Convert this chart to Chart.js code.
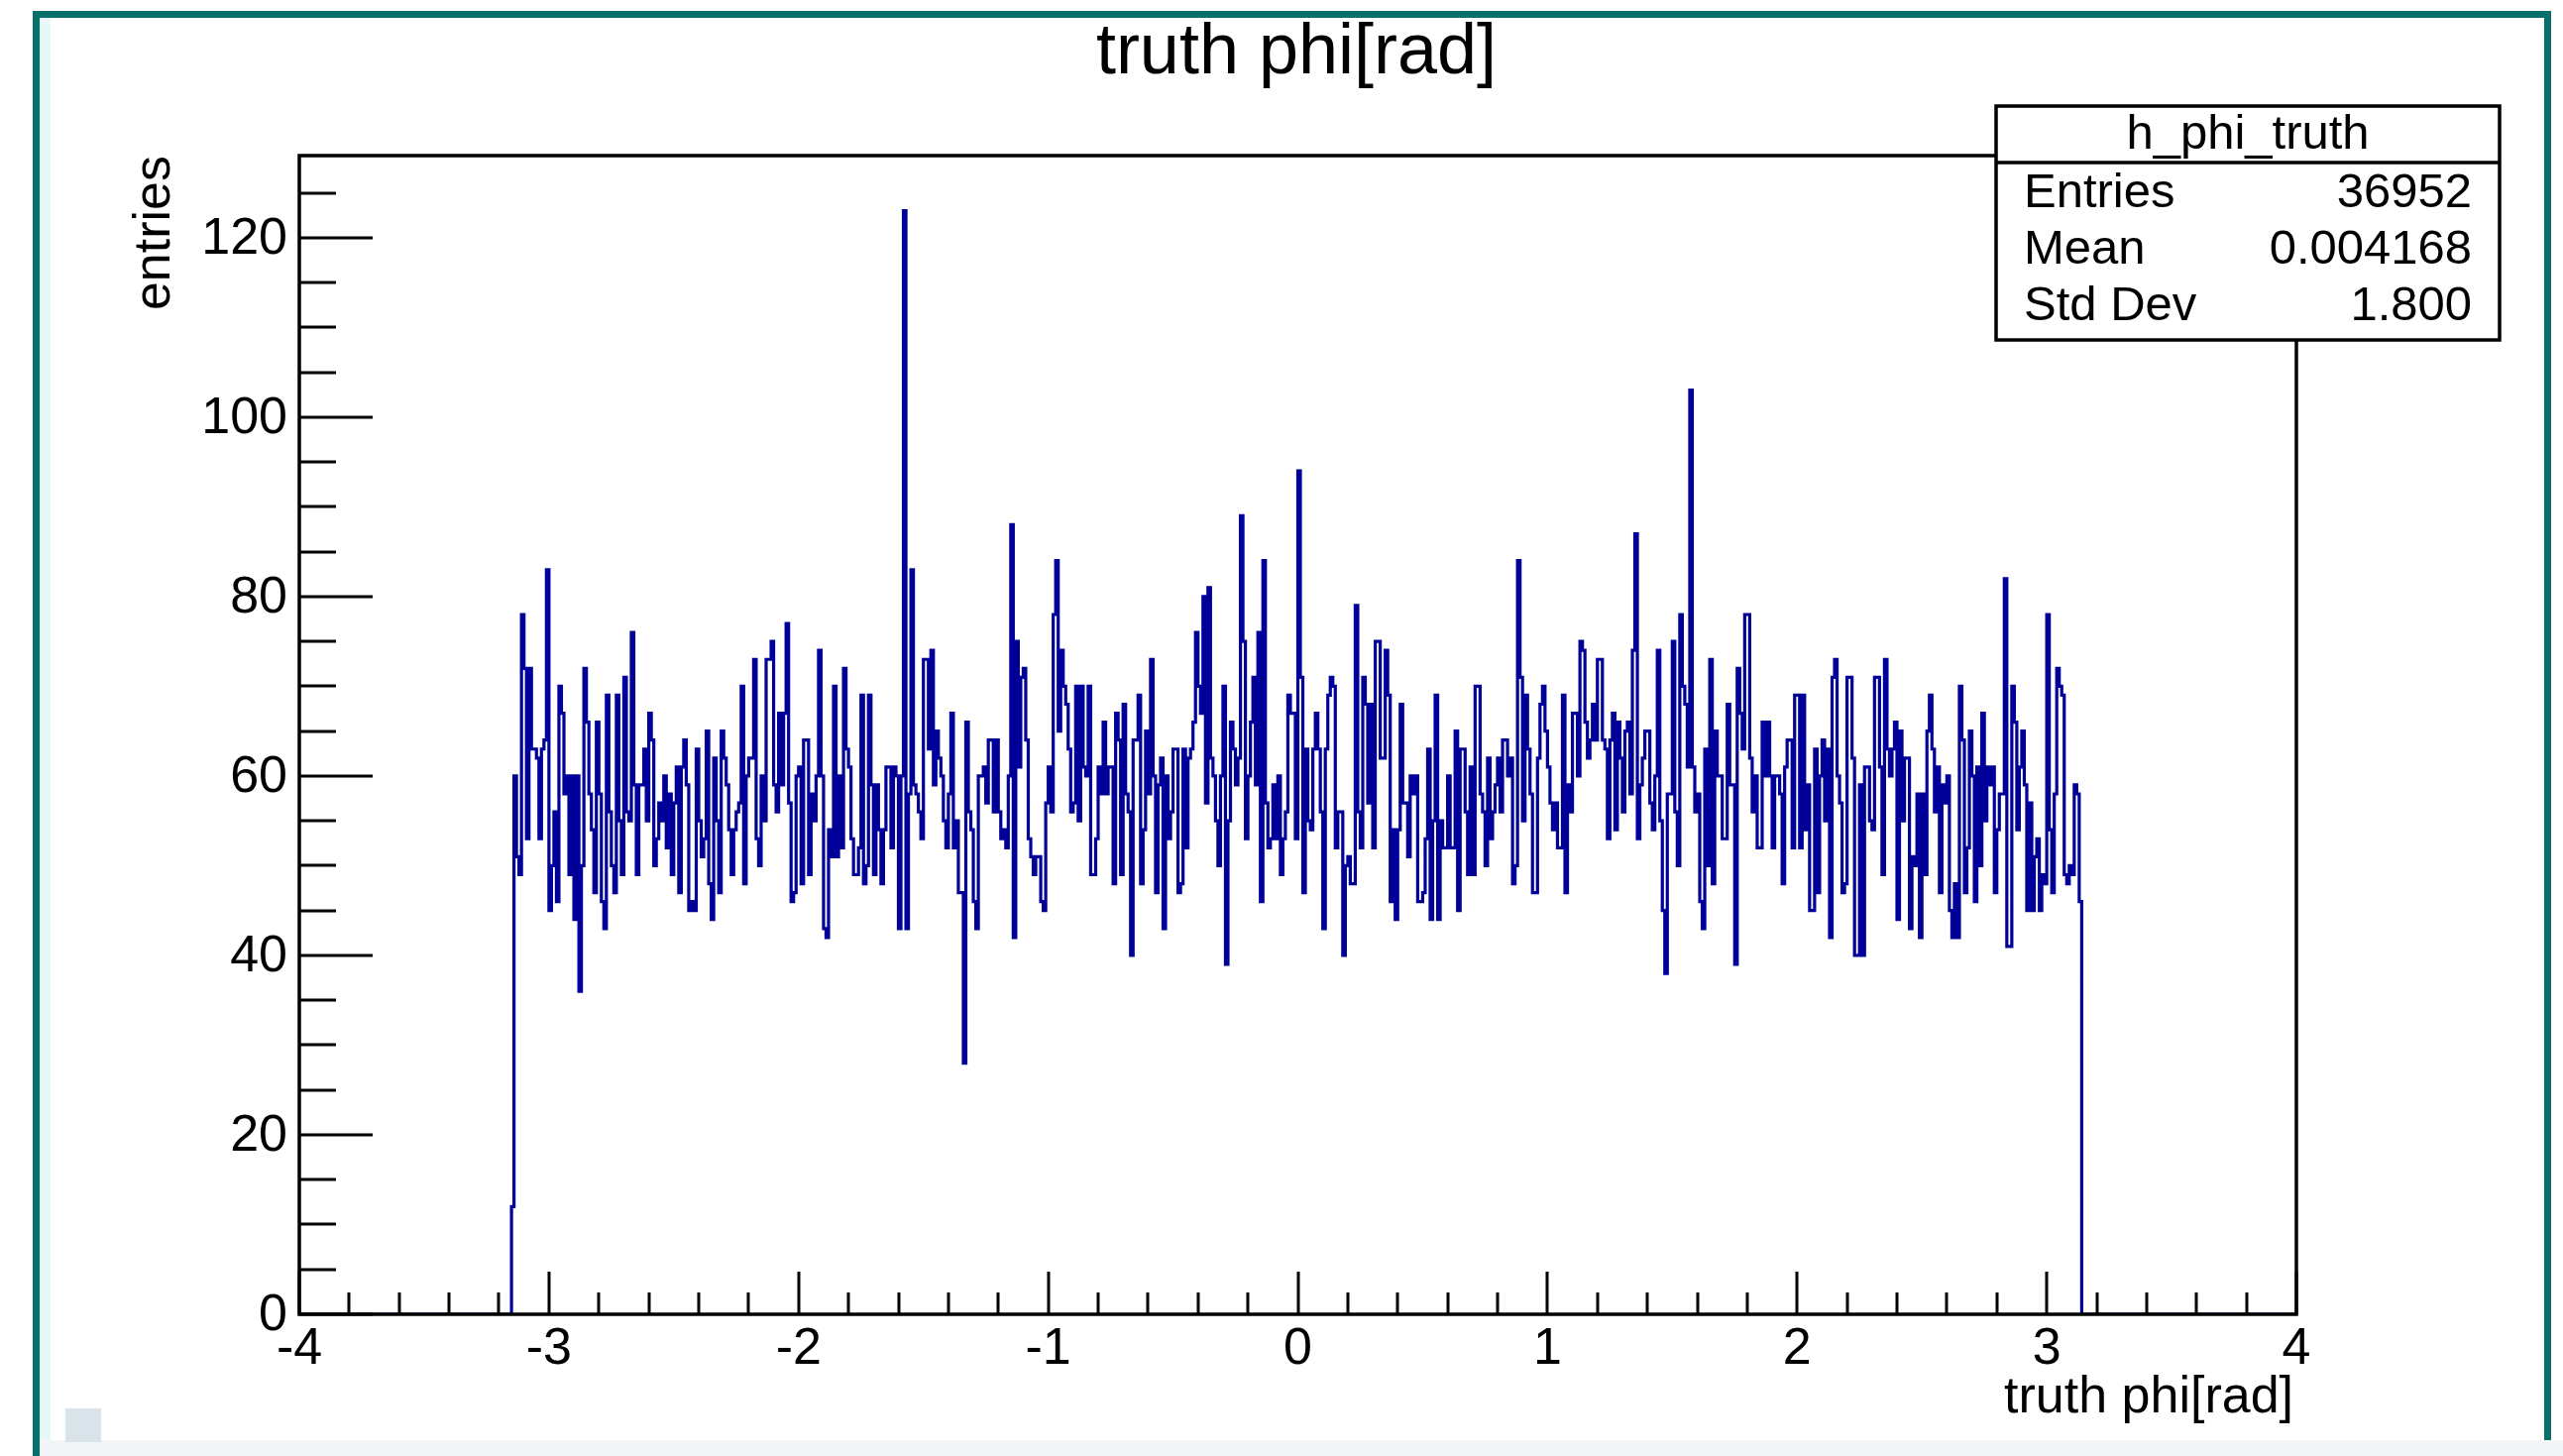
<!DOCTYPE html>
<html>
<head>
<meta charset="utf-8">
<title>truth phi[rad]</title>
<script src="https://cdn.jsdelivr.net/npm/chart.js@4.4.1/dist/chart.umd.min.js"></script>
<style>
  html, body { margin: 0; padding: 0; background: #ffffff; overflow: hidden; }
  canvas { display: block; }
</style>
</head>
<body>
<canvas id="phiChart" width="2586" height="1469"></canvas>
<script>
// h_phi_truth : bins of 0.01 rad starting at -3.15, counts
const firstEdge = -3.15;
const binWidth = 0.01;

// phi in [-3.15, -3.00)
const countsFromM315 = [12, 60, 51, 49, 78, 72, 53, 72, 63, 63, 62, 53, 63, 64, 83];
// phi in [-3, -2)
const countsFromM3 = [
  45, 50, 56, 46, 70, 67, 58, 60, 49, 60, 44, 60, 36, 50, 72, 66, 58, 54, 47, 66,
  58, 46, 43, 69, 56, 50, 47, 69, 55, 49, 71, 56, 55, 76, 59, 49, 59, 59, 63, 55,
  67, 64, 50, 53, 57, 55, 60, 52, 58, 49, 57, 61, 47, 61, 64, 59, 45, 46, 45, 63,
  55, 51, 53, 65, 48, 44, 62, 55, 47, 65, 62, 59, 54, 49, 54, 56, 57, 70, 48, 60,
  62, 62, 73, 53, 50, 60, 55, 73, 73, 75, 59, 56, 67, 59, 67, 77, 57, 46, 47, 60
];
// phi in [-2, -1)
const countsFromM2 = [
  61, 48, 64, 64, 49, 58, 55, 60, 74, 60, 43, 42, 54, 51, 70, 51, 60, 52, 72, 63,
  61, 53, 49, 49, 52, 69, 48, 50, 69, 59, 49, 59, 54, 48, 54, 61, 61, 52, 61, 60,
  43, 60, 123, 43, 58, 83, 59, 58, 56, 53, 73, 73, 63, 74, 59, 65, 62, 60, 55, 52,
  58, 67, 52, 55, 47, 47, 28, 66, 56, 54, 46, 43, 60, 60, 61, 57, 64, 64, 56, 64,
  56, 53, 54, 52, 60, 88, 42, 75, 61, 71, 72, 64, 53, 51, 49, 51, 51, 46, 45, 57
];
// phi in [-1, 0)
const countsFromM1 = [
  61, 56, 78, 84, 65, 74, 70, 68, 63, 56, 57, 70, 55, 70, 61, 60, 70, 49, 49, 53,
  61, 58, 66, 58, 61, 61, 48, 67, 64, 49, 68, 58, 56, 40, 64, 64, 69, 48, 54, 65,
  58, 73, 60, 47, 59, 62, 43, 60, 53, 56, 63, 63, 47, 48, 63, 52, 62, 63, 66, 76,
  70, 67, 80, 57, 81, 62, 60, 55, 50, 60, 70, 39, 55, 66, 63, 59, 62, 89, 75, 53,
  60, 66, 71, 59, 76, 46, 84, 57, 52, 53, 59, 53, 60, 49, 53, 56, 69, 67, 67, 53
];
// phi in [0, 1)
const countsFrom0 = [
  94, 71, 47, 63, 55, 54, 63, 67, 63, 56, 43, 63, 69, 71, 70, 52, 56, 56, 40, 50,
  51, 48, 48, 79, 56, 52, 71, 68, 57, 68, 52, 75, 75, 62, 62, 74, 69, 46, 54, 44,
  54, 68, 57, 57, 51, 60, 58, 60, 46, 46, 47, 53, 63, 44, 55, 69, 44, 55, 52, 52,
  60, 52, 52, 65, 45, 63, 63, 56, 49, 61, 49, 70, 70, 58, 56, 50, 62, 53, 56, 59,
  62, 56, 64, 64, 60, 62, 48, 50, 84, 71, 55, 69, 63, 58, 47, 47, 62, 68, 70, 65
];
// phi in [1, 2)
const countsFrom1 = [
  61, 57, 54, 57, 52, 52, 69, 47, 59, 56, 67, 67, 60, 75, 74, 66, 62, 64, 68, 64,
  73, 73, 64, 63, 53, 64, 67, 54, 66, 62, 56, 65, 66, 58, 74, 87, 53, 59, 62, 65,
  65, 57, 54, 60, 74, 55, 45, 38, 58, 58, 75, 56, 50, 78, 70, 68, 61, 103, 61, 56,
  58, 46, 43, 63, 50, 73, 48, 65, 60, 60, 53, 53, 68, 59, 59, 39, 72, 67, 63, 78,
  78, 62, 56, 60, 52, 52, 66, 60, 66, 60, 52, 60, 60, 58, 48, 61, 64, 64, 52, 69
];
// phi in [2, 3)
const countsFrom2 = [
  69, 52, 69, 54, 59, 45, 45, 63, 47, 60, 64, 55, 63, 42, 71, 73, 60, 57, 47, 48,
  71, 71, 62, 40, 40, 59, 40, 61, 61, 55, 54, 71, 71, 61, 49, 73, 63, 60, 63, 66,
  44, 65, 55, 62, 62, 43, 51, 50, 58, 42, 58, 49, 65, 69, 63, 56, 61, 47, 59, 57,
  60, 45, 42, 48, 42, 70, 64, 47, 52, 65, 60, 46, 61, 50, 67, 55, 61, 59, 61, 47,
  54, 58, 58, 82, 41, 41, 70, 66, 54, 61, 65, 59, 45, 57, 45, 51, 53, 45, 49, 48
];
// phi in [3, 3.14)
const countsFrom3 = [78, 54, 47, 58, 72, 70, 69, 49, 48, 50, 49, 59, 58, 46];

const xTickLabels = ['-4', '-3', '-2', '-1', '0', '1', '2', '3', '4'];
const yTickLabels = ['0', '20', '40', '60', '80', '100', '120'];
const statsLabels = ['Entries', 'Mean', 'Std Dev'];
const statsValues = ['36952', '0.004168', '1.800'];

const FONT = '"Liberation Sans", Arial, Helvetica, sans-serif';
const HIST_COLOR = '#000099';

// histogram outline: one point per bin low edge, stepped
const counts = [].concat(countsFromM315, countsFromM3, countsFromM2, countsFromM1,
  countsFrom0, countsFrom1, countsFrom2, countsFrom3);
const points = [{ x: -4, y: 0 }];
counts.forEach((c, i) => {
  points.push({ x: +(firstEdge + i * binWidth).toFixed(2), y: c });
});
points.push({ x: +(firstEdge + counts.length * binWidth).toFixed(2), y: 0 });
points.push({ x: 4, y: 0 });

// ROOT-like frame, inside ticks, labels, stats box and window border
const rootStyle = {
  id: 'rootStyle',
  beforeDraw(chart) {
    const ctx = chart.ctx;
    ctx.save();
    ctx.fillStyle = '#ffffff';
    ctx.fillRect(0, 0, chart.width, chart.height);
    ctx.restore();
  },
  afterDatasetsDraw(chart) {
    const ctx = chart.ctx;
    const area = chart.chartArea;
    const xs = chart.scales.x;
    const ys = chart.scales.y;
    ctx.save();
    ctx.strokeStyle = '#000000';
    ctx.lineWidth = 3;
    ctx.beginPath();
    // y ticks every 5, long ones every 20
    for (let v = 0; v <= ys.max; v += 5) {
      const y = Math.round(ys.getPixelForValue(v));
      const len = v % 20 === 0 ? 74 : 37;
      ctx.moveTo(area.left, y);
      ctx.lineTo(area.left + len, y);
    }
    // x ticks every 0.2, long ones on integers
    for (let i = -20; i <= 20; i++) {
      const x = Math.round(xs.getPixelForValue(i / 5));
      const len = i % 5 === 0 ? 43 : 22;
      ctx.moveTo(x, area.bottom);
      ctx.lineTo(x, area.bottom - len);
    }
    ctx.stroke();
    ctx.lineWidth = 3.5;
    ctx.strokeRect(area.left, area.top, area.right - area.left, area.bottom - area.top);
    ctx.restore();
  },
  afterDraw(chart) {
    const ctx = chart.ctx;
    const area = chart.chartArea;
    const xs = chart.scales.x;
    const ys = chart.scales.y;
    ctx.save();
    ctx.fillStyle = '#000000';

    // title
    ctx.font = '72px ' + FONT;
    ctx.textAlign = 'center';
    ctx.textBaseline = 'alphabetic';
    ctx.fillText('truth phi[rad]', 1308, 74);

    // tick labels
    ctx.font = '52px ' + FONT;
    ctx.textAlign = 'right';
    yTickLabels.forEach(t => {
      ctx.fillText(t, area.left - 12, ys.getPixelForValue(Number(t)) + 16);
    });
    ctx.textAlign = 'center';
    xTickLabels.forEach(t => {
      ctx.fillText(t, xs.getPixelForValue(Number(t)), area.bottom + 50);
    });

    // axis titles
    ctx.textAlign = 'right';
    ctx.fillText('truth phi[rad]', area.right - 3, 1425);
    ctx.save();
    ctx.translate(171, area.top);
    ctx.rotate(-Math.PI / 2);
    ctx.fillText('entries', 0, 0);
    ctx.restore();

    // stats box
    const bx = 2014, by = 107, bw = 508, bh = 236;
    ctx.fillStyle = '#ffffff';
    ctx.fillRect(bx, by, bw, bh);
    ctx.strokeStyle = '#000000';
    ctx.lineWidth = 3.5;
    ctx.strokeRect(bx, by, bw, bh);
    ctx.beginPath();
    ctx.moveTo(bx, 164);
    ctx.lineTo(bx + bw, 164);
    ctx.stroke();
    ctx.fillStyle = '#000000';
    ctx.font = '49px ' + FONT;
    ctx.textAlign = 'center';
    ctx.fillText('h_phi_truth', bx + bw / 2, 150);
    const rowBase = [209, 266, 323];
    statsLabels.forEach((lab, i) => {
      ctx.textAlign = 'left';
      ctx.fillText(lab, 2042, rowBase[i]);
      ctx.textAlign = 'right';
      ctx.fillText(statsValues[i], 2494, rowBase[i]);
    });

    // window border of the screenshot
    ctx.fillStyle = '#f4f5f6';
    ctx.fillRect(40, 1453, chart.width - 40, chart.height - 1453);
    ctx.fillStyle = '#e6f8f8';
    ctx.fillRect(40, 18, 11, 1435);
    ctx.fillStyle = '#08706a';
    ctx.fillRect(33, 11, 7, chart.height - 11);
    ctx.fillRect(33, 11, 2541, 7);
    ctx.fillRect(2567, 11, 7, 1442);
    ctx.fillStyle = '#d9e3ea';
    ctx.fillRect(66, 1421, 36, 34);
    ctx.restore();
  }
};

new Chart(document.getElementById('phiChart'), {
  type: 'line',
  data: {
    datasets: [{
      label: 'h_phi_truth',
      data: points,
      stepped: 'before',
      borderColor: HIST_COLOR,
      borderWidth: 3.2,
      pointRadius: 0,
      fill: false,
      tension: 0
    }]
  },
  options: {
    responsive: false,
    animation: false,
    layout: { padding: { left: 302, top: 157, right: 269, bottom: 143 } },
    plugins: {
      legend: { display: false },
      title: { display: false },
      tooltip: { enabled: false }
    },
    scales: {
      x: { type: 'linear', min: -4, max: 4, display: false },
      y: { type: 'linear', min: 0, max: 129.15, display: false }
    }
  },
  plugins: [rootStyle]
});
</script>
</body>
</html>
